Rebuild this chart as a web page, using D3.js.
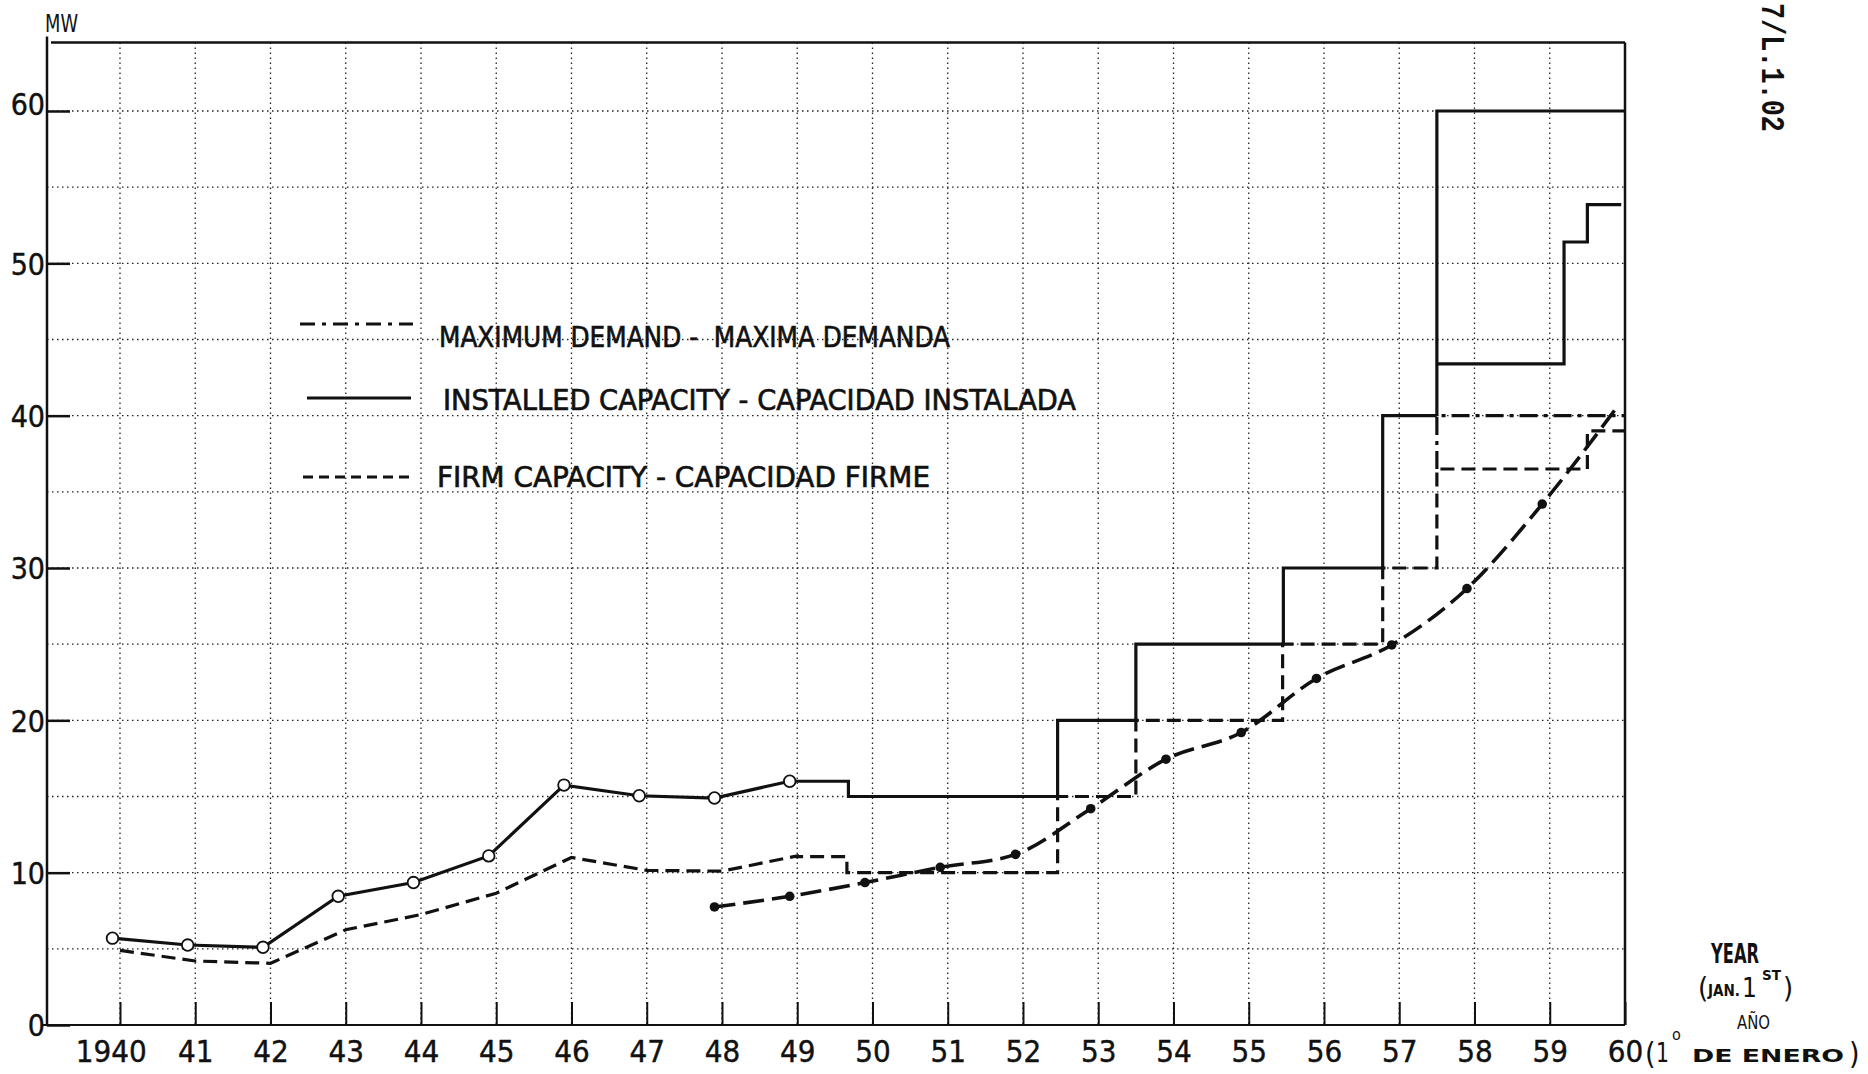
<!DOCTYPE html>
<html>
<head>
<meta charset="utf-8">
<script src="https://cdn.jsdelivr.net/npm/d3@7/dist/d3.min.js"></script>
<style>
  body { margin: 0; background: #fff; }
  svg { display: block; }
  text { font-family: "Liberation Sans Narrow", "DejaVu Sans Condensed", sans-serif; fill: #111; }
</style>
</head>
<body>
<svg width="1868" height="1074"></svg>
<script>
// Installed capacity, yearly readings (open circles)
var installedYears = [1940, 1941, 1942, 1943, 1944, 1945, 1946, 1947, 1948, 1949];
var installedValues = [5.7, 5.25, 5.1, 8.45, 9.35, 11.1, 15.75, 15.05, 14.9, 16.0];
// Installed capacity steps (value holds from year[i] to year[i+1])
var installedStepYears = [1949, 1949.68, 1952.46, 1953.5, 1955.46, 1956.78, 1957.5];
var installedStepValues = [16.0, 15, 20, 25, 30, 40];
var installedHighYears = [1957.5, 1960];
var installedHighValues = [60];
var installedLowYears = [1957.5, 1959.19, 1959.5, 1959.95];
var installedLowValues = [43.4, 51.4, 53.85];

// Firm capacity
var firmYears = [1940, 1941, 1942, 1943, 1944, 1945, 1946, 1947, 1948, 1949];
var firmValues = [4.9, 4.2, 4.05, 6.25, 7.25, 8.65, 11.0, 10.15, 10.1, 11.1];
var firmStepYears = [1949, 1949.66, 1952.46, 1953.5, 1955.45, 1956.78, 1957.5, 1959.5, 1960];
var firmStepValues = [11.05, 10, 15, 20, 25, 30, 36.5, 39];
var firmHighYears = [1957.5, 1960];
var firmHighValues = [40];

// Maximum demand
var demandYears = [1948, 1949, 1950, 1951, 1952, 1953, 1954, 1955, 1956, 1957, 1958, 1959, 1960];
var demandValues = [7.75, 8.45, 9.35, 10.35, 11.2, 14.2, 17.45, 19.2, 22.75, 24.95, 28.65, 34.2, 40.6];

// points were plotted slightly before the Jan. 1st line
var pointShift = -0.1;

var yTicks = [0, 10, 20, 30, 40, 50, 60];
var gridValues = [5, 10, 15, 20, 25, 30, 35, 40, 45, 50, 55, 60];
var tickYears = d3.range(1940, 1961);

var legendItems = [
    { label: "MAXIMUM DEMAND -  MAXIMA DEMANDA", kind: "demand" },
    { label: "INSTALLED CAPACITY - CAPACIDAD INSTALADA", kind: "installed" },
    { label: "FIRM CAPACITY - CAPACIDAD FIRME", kind: "firm" }
];

var ink = "#111";
var svg = d3.select("svg");

var x = d3.scaleLinear().domain([1939.03, 1960]).range([47, 1625]),
    y = d3.scaleLinear().domain([0, 60]).range([1025, 111]);
var yTop = 64.5;

function stepPoints(years, values) {
    var pts = [];
    values.forEach(function (v, i) {
        pts.push([years[i], v], [years[i + 1], v]);
    });
    return pts;
}

function zip(years, values, shift) {
    return years.map(function (yr, i) { return [yr + (shift || 0), values[i]]; });
}

var line = d3.line()
    .x(function (d) { return x(d[0]); })
    .y(function (d) { return y(d[1]); });

// grid
var grid = svg.append("g")
    .attr("stroke", "#222")
    .attr("stroke-width", 1.3)
    .attr("stroke-dasharray", "1.5,3.5");

grid.selectAll(".gx")
    .data(d3.range(1940, 1960))
    .enter().append("line")
    .attr("x1", function (d) { return x(d); })
    .attr("x2", function (d) { return x(d); })
    .attr("y1", y(yTop))
    .attr("y2", y(0));

grid.selectAll(".gy")
    .data(gridValues)
    .enter().append("line")
    .attr("x1", x.range()[0])
    .attr("x2", x.range()[1])
    .attr("y1", function (d) { return y(d); })
    .attr("y2", function (d) { return y(d); });

// frame
var frame = svg.append("g").attr("stroke", ink).attr("stroke-width", 2.5).attr("fill", "none");
frame.append("line").attr("x1", x.range()[0]).attr("x2", x.range()[0]).attr("y1", y(yTop) - 6).attr("y2", y(0));
frame.append("line").attr("x1", x.range()[0] + 4).attr("x2", x.range()[1]).attr("y1", y(yTop)).attr("y2", y(yTop));
frame.append("line").attr("x1", x.range()[1]).attr("x2", x.range()[1]).attr("y1", y(yTop)).attr("y2", y(0));
frame.append("line").attr("x1", x.range()[0] - 6).attr("x2", x.range()[1]).attr("y1", y(0)).attr("y2", y(0)).attr("stroke-width", 2);

// y axis ticks point inward
var yAxis = svg.append("g")
    .attr("transform", "translate(" + x.range()[0] + ",0)")
    .call(d3.axisLeft(y).tickValues(yTicks).tickSizeInner(-23).tickSizeOuter(0).tickPadding(2));
yAxis.select(".domain").remove();
yAxis.selectAll("line").attr("stroke", ink).attr("stroke-width", 2.5);
yAxis.selectAll("text")
    .attr("font-size", 30)
    .attr("font-family", null)
    .attr("fill", ink)
    .attr("stroke", ink)
    .attr("stroke-width", 0.4)
    .attr("dy", function (d) { return d === 60 ? "0.1em" : "0.36em"; });

// x axis
var xAxis = svg.append("g")
    .attr("transform", "translate(0," + y(0) + ")")
    .call(d3.axisBottom(x).tickValues(tickYears).tickSizeInner(-23).tickSizeOuter(0).tickPadding(15)
        .tickFormat(function (d) { return d === 1940 ? "1940" : String(d).slice(2); }));
xAxis.select(".domain").remove();
xAxis.selectAll("line").attr("stroke", ink).attr("stroke-width", 2);
xAxis.selectAll("text")
    .attr("font-size", 31)
    .attr("font-family", null)
    .attr("fill", ink)
    .attr("stroke", ink)
    .attr("stroke-width", 0.4)
    .attr("dx", function (d) { return d === 1940 ? "-0.3em" : null; });

// series
var installedMain = zip(installedYears, installedValues, pointShift)
    .concat(stepPoints(installedStepYears, installedStepValues));
var installedHigh = [[installedStepYears[installedStepYears.length - 1], installedStepValues[installedStepValues.length - 1]]]
    .concat(stepPoints(installedHighYears, installedHighValues));
var installedLow = stepPoints(installedLowYears, installedLowValues);

var firmMain = zip(firmYears, firmValues).concat(stepPoints(firmStepYears, firmStepValues));
var firmHigh = [[1957.5, firmStepValues[6]]].concat(stepPoints(firmHighYears, firmHighValues));

var demand = zip(demandYears, demandValues, pointShift);

var styles = {
    installed: { width: 3.2, dash: null },
    firm: { width: 3.2, dash: "14,7" },
    firmHigh: { width: 3.2, dash: "18,6,4,6" },
    demand: { width: 3.6, dash: "21,8" }
};

function drawSeries(data, kind, curve) {
    svg.append("path")
        .datum(data)
        .attr("fill", "none")
        .attr("stroke", ink)
        .attr("stroke-width", styles[kind].width)
        .attr("stroke-dasharray", styles[kind].dash)
        .attr("stroke-linejoin", "miter")
        .attr("d", line.curve(curve || d3.curveLinear)(data));
}

drawSeries(firmMain, "firm");
drawSeries(firmHigh, "firmHigh");
drawSeries(installedMain, "installed");
drawSeries(installedHigh, "installed");
drawSeries(installedLow, "installed");
drawSeries(demand, "demand", d3.curveMonotoneX);

svg.append("g").selectAll("circle")
    .data(demand.slice(0, -1))
    .enter().append("circle")
    .attr("cx", function (d) { return x(d[0]); })
    .attr("cy", function (d) { return y(d[1]); })
    .attr("r", 4.8)
    .attr("fill", ink);

svg.append("g").selectAll("circle")
    .data(zip(installedYears, installedValues, pointShift))
    .enter().append("circle")
    .attr("cx", function (d) { return x(d[0]); })
    .attr("cy", function (d) { return y(d[1]); })
    .attr("r", 5.8)
    .attr("fill", "#fff")
    .attr("stroke", ink)
    .attr("stroke-width", 1.8);

// legend
var legendSamples = [{ x1: 300, x2: 413, y: 324 }, { x1: 307, x2: 411, y: 398 }, { x1: 303, x2: 411, y: 477 }];
var legendText = [{ x: 439, y: 347, w: 511 }, { x: 443, y: 410, w: 633 }, { x: 437, y: 487, w: 493 }];
var legendDash = { demand: "15,7,4,7", installed: null, firm: "10,6" };

var legend = svg.append("g");
legend.selectAll("line")
    .data(legendItems)
    .enter().append("line")
    .attr("x1", function (d, i) { return legendSamples[i].x1; })
    .attr("x2", function (d, i) { return legendSamples[i].x2; })
    .attr("y1", function (d, i) { return legendSamples[i].y; })
    .attr("y2", function (d, i) { return legendSamples[i].y; })
    .attr("stroke", ink)
    .attr("stroke-width", 3)
    .attr("stroke-dasharray", function (d) { return legendDash[d.kind]; });

legend.selectAll("text")
    .data(legendItems)
    .enter().append("text")
    .attr("x", function (d, i) { return legendText[i].x; })
    .attr("y", function (d, i) { return legendText[i].y; })
    .attr("font-size", 28)
    .attr("stroke", ink)
    .attr("stroke-width", 0.6)
    .attr("textLength", function (d, i) { return legendText[i].w; })
    .attr("lengthAdjust", "spacingAndGlyphs")
    .style("white-space", "pre")
    .text(function (d) { return d.label; });

// labels
function label(txt, lx, ly, size, opts) {
    opts = opts || {};
    var t = svg.append("text")
        .attr("x", lx)
        .attr("y", ly)
        .attr("font-size", size)
        .text(txt);
    if (opts.w) t.attr("textLength", opts.w).attr("lengthAdjust", "spacingAndGlyphs");
    if (opts.fill) t.attr("fill", opts.fill);
    if (opts.bold) t.attr("font-weight", "bold");
    if (opts.family) t.style("font-family", opts.family);
    if (opts.transform) t.attr("transform", opts.transform).attr("x", 0).attr("y", 0);
    return t;
}

label("MW", 45, 32, 25, { w: 33 });

label("YEAR", 1711, 963, 27, { w: 48, bold: true });
label("(", 1698, 998, 29);
label("JAN.", 1708, 996, 16, { w: 32, bold: true });
label("1", 1742, 997, 26);
label("ST", 1762, 980, 14, { w: 19, bold: true });
label(")", 1783, 998, 29);
label("AÑO", 1737, 1029, 19, { w: 33, fill: "#999" });

label("(", 1645, 1064, 30);
label("1", 1656, 1062, 26, { w: 13 });
label("o", 1672, 1040, 16);
label("DE ENERO", 1692, 1062, 18, { w: 152, bold: true });
label(")", 1849, 1064, 30);

label("7/L.1.02", 0, 0, 33, {
    w: 129,
    bold: true,
    family: "'Liberation Mono', 'DejaVu Sans Mono', monospace",
    transform: "translate(1762,3) rotate(90)"
});
</script>
</body>
</html>
